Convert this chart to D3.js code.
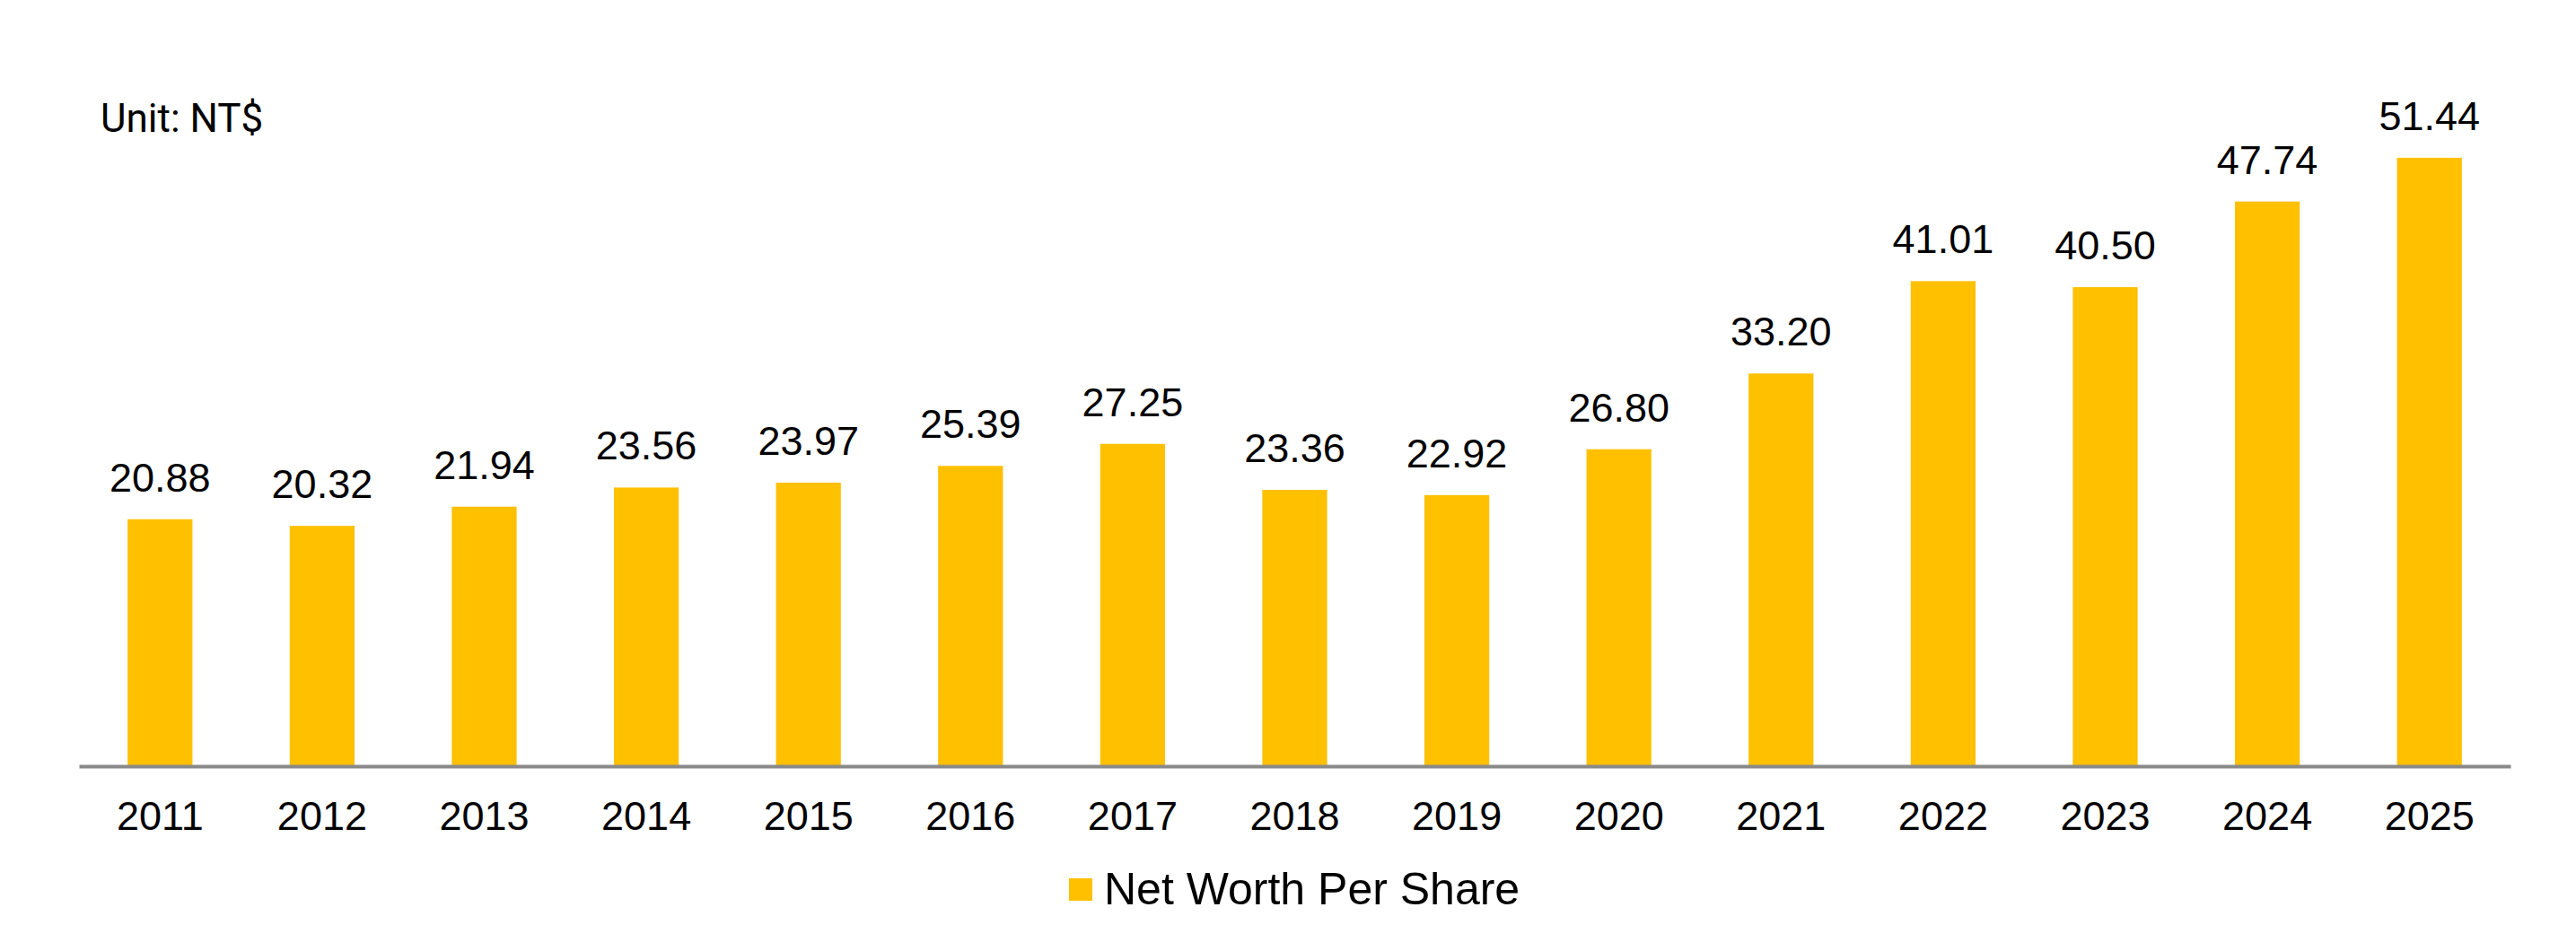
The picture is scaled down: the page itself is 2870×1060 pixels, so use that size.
<!DOCTYPE html>
<html>
<head>
<meta charset="utf-8">
<script src="https://cdn.jsdelivr.net/npm/d3@7"></script>
<style>
  html, body { margin: 0; padding: 0; background: #fff; }
  svg { display: block; }
</style>
</head>
<body>
<div id="chart"></div>
<script>
// Data
const years = ["2011", "2012", "2013", "2014", "2015", "2016", "2017", "2018",
               "2019", "2020", "2021", "2022", "2023", "2024", "2025"];
const netWorth = [20.88, 20.32, 21.94, 23.56, 23.97, 25.39, 27.25, 23.36,
                  22.92, 26.80, 33.20, 41.01, 40.50, 47.74, 51.44];
const seriesName = "Net Worth Per Share";
const unitLabel = "Unit: NT$";

// Dimensions
const width = 2870, height = 1060;
const margin = { top: 63, right: 73, bottom: 206, left: 88 };
const baseY = height - margin.bottom;

const svg = d3.select("#chart")
    .append("svg")
    .attr("width", width)
    .attr("height", height);

// Scales
const xScale = d3.scaleBand()
    .domain(years)
    .range([margin.left, width - margin.right])
    .paddingInner(0.6)
    .paddingOuter(0.3);

const yScale = d3.scaleLinear()
    .domain([0, 60])
    .range([baseY, margin.top]);

const gold = "#FFC000";
const font = "'Liberation Sans', Arial, sans-serif";

// Bars
svg.selectAll(".bar")
    .data(netWorth)
    .enter()
    .append("rect")
    .attr("class", "bar")
    .attr("x", (d, i) => xScale(years[i]))
    .attr("y", d => yScale(d))
    .attr("width", xScale.bandwidth())
    .attr("height", d => baseY - yScale(d))
    .attr("fill", gold);

// Value labels
svg.selectAll(".value")
    .data(netWorth)
    .enter()
    .append("text")
    .attr("class", "value")
    .attr("x", (d, i) => xScale(years[i]) + xScale.bandwidth() / 2)
    .attr("y", d => yScale(d) - 31)
    .attr("text-anchor", "middle")
    .style("font-family", font)
    .style("font-size", "45px")
    .attr("fill", "#000")
    .text(d => d.toFixed(2));

// X axis
const xAxis = d3.axisBottom(xScale).tickSize(0).tickPadding(0);
const gx = svg.append("g")
    .attr("transform", `translate(0,${baseY})`)
    .call(xAxis);
gx.select(".domain")
    .attr("stroke", "#898989")
    .attr("stroke-width", 4);
gx.selectAll(".tick text")
    .attr("dy", null)
    .attr("y", 71)
    .style("font-family", font)
    .style("font-size", "45px")
    .attr("fill", "#000");

// Unit label
svg.append("text")
    .attr("x", 112)
    .attr("y", 147)
    .style("font-family", "Roboto, sans-serif")
    .style("font-size", "44px")
    .attr("fill", "#000")
    .text(unitLabel);

// Legend
const legend = svg.append("g").attr("transform", "translate(1191, 979)");
legend.append("rect")
    .attr("width", 26)
    .attr("height", 25)
    .attr("fill", gold);
legend.append("text")
    .attr("x", 39)
    .attr("y", 29)
    .style("font-family", font)
    .style("font-size", "50px")
    .attr("fill", "#000")
    .text(seriesName);
</script>
</body>
</html>
